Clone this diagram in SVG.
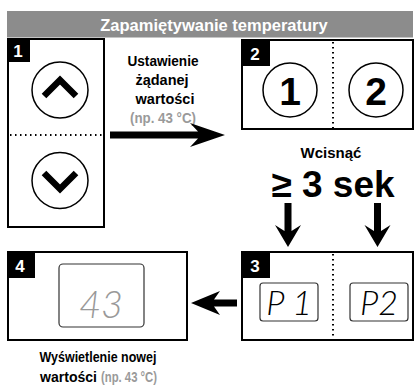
<svg xmlns="http://www.w3.org/2000/svg" width="419" height="387" viewBox="0 0 419 387">
<style>
.box{fill:#fff;stroke:#000;stroke-width:2}
.badge{fill:#000}
.bnum{font-family:"Liberation Sans",Arial,sans-serif;font-weight:bold;font-size:17px;fill:#fff;text-anchor:middle}
.circ{fill:none;stroke:#000;stroke-width:1.5}
.chev{fill:none;stroke:#000;stroke-width:6.5;stroke-linejoin:miter}
.dot{stroke:#000;stroke-width:2;stroke-dasharray:1.5 3.5;fill:none}
.lbl{font-family:"Liberation Sans",Arial,sans-serif;font-weight:bold;font-size:14.5px;fill:#000;text-anchor:middle}
.grey{fill:#9a9a9a}
.lcd{fill:#fff;stroke:#333;stroke-width:1.2}
.seg{font-family:Lato,"DejaVu Sans",sans-serif;font-weight:300;font-style:italic;fill:#000;text-anchor:middle}
.big{font-family:"Liberation Sans",Arial,sans-serif;font-weight:bold;fill:#000;text-anchor:middle}
</style>
<rect x="7" y="11" width="406" height="26.5" fill="#8c8c8c"/>
<text x="214" y="31" font-family="Liberation Sans, Arial, sans-serif" font-weight="bold" font-size="16.5" fill="#fff" text-anchor="middle">Zapamiętywanie temperatury</text>

<g id="node1">
<rect class="box" x="8" y="39" width="96" height="188"/>
<rect class="badge" x="7" y="38" width="23" height="24"/>
<text class="bnum" x="18" y="57">1</text>
<circle class="circ" cx="60" cy="90" r="28"/>
<polyline class="chev" points="44,96 60,80 76,96"/>
<line class="dot" x1="10" y1="135" x2="102" y2="135"/>
<circle class="circ" cx="60" cy="180.5" r="28"/>
<polyline class="chev" points="44,173 60,189 76,173"/>
</g>

<g id="label1">
<text class="lbl" x="163" y="66" textLength="71" lengthAdjust="spacingAndGlyphs">Ustawienie</text>
<text class="lbl" x="162" y="85">żądanej</text>
<text class="lbl" x="165" y="104">wartości</text>
<text class="lbl grey" x="163" y="123" textLength="66" lengthAdjust="spacingAndGlyphs">(np. 43 °C)</text>
</g>

<g id="node2">
<rect class="box" x="242" y="40" width="171" height="89"/>
<rect class="badge" x="242" y="40" width="28" height="26"/>
<text class="bnum" x="255" y="60">2</text>
<line class="dot" x1="333" y1="42" x2="333" y2="128"/>
<circle class="circ" cx="290" cy="90" r="27"/>
<text class="big" x="290" y="105" font-size="39">1</text>
<circle class="circ" cx="376" cy="90" r="27"/>
<text class="big" x="376" y="105" font-size="39">2</text>
</g>

<g id="label2">
<text class="big" x="331" y="158" font-size="15" font-weight="900">Wcisnąć</text>
<text class="big" x="333" y="197" font-size="37">≥ 3 sek</text>
</g>

<g id="node3">
<rect class="box" x="242" y="252" width="171" height="88"/>
<rect class="badge" x="242" y="252" width="28" height="26"/>
<text class="bnum" x="255" y="272">3</text>
<line class="dot" x1="333" y1="254" x2="333" y2="339"/>
<rect class="lcd" x="260" y="283" width="58" height="38" rx="3"/>
<text class="seg" x="289" y="315" font-size="34">P 1</text>
<rect class="lcd" x="350" y="283" width="58" height="38" rx="3"/>
<text class="seg" x="379" y="315" font-size="34">P2</text>
</g>

<g id="node4">
<rect class="box" x="8" y="252" width="179" height="88"/>
<rect class="badge" x="7" y="252" width="28" height="26"/>
<text class="bnum" x="20" y="272">4</text>
<rect class="lcd" x="59" y="264" width="85" height="63" rx="4"/>
<text class="seg" x="101" y="318" font-size="38" style="fill:#999">43</text>
</g>

<g id="label4">
<text class="lbl" x="98" y="362" textLength="117" lengthAdjust="spacingAndGlyphs">Wyświetlenie nowej</text>
<text class="lbl" x="40" y="382" text-anchor="start" style="text-anchor:start" textLength="57" lengthAdjust="spacingAndGlyphs">wartości</text>
<text class="lbl grey" x="101" y="382" style="text-anchor:start" textLength="56" lengthAdjust="spacingAndGlyphs">(np. 43 °C)</text>
</g>

<g id="connectors">
<polygon points="110,131.5 198,131.5 190,123 225,135 190,147 198,138.5 110,138.5"/>
<polygon points="284.5,203 291.5,203 291.5,231 301,225 288,247 275,225 284.5,231"/>
<polygon points="374,203 381,203 381,231 390.5,225 377.5,247 364.5,225 374,231"/>
<polygon points="237,299.5 237,306.5 214,306.5 220,315 191,303 220,291 214,299.5"/>
</g>
</svg>
